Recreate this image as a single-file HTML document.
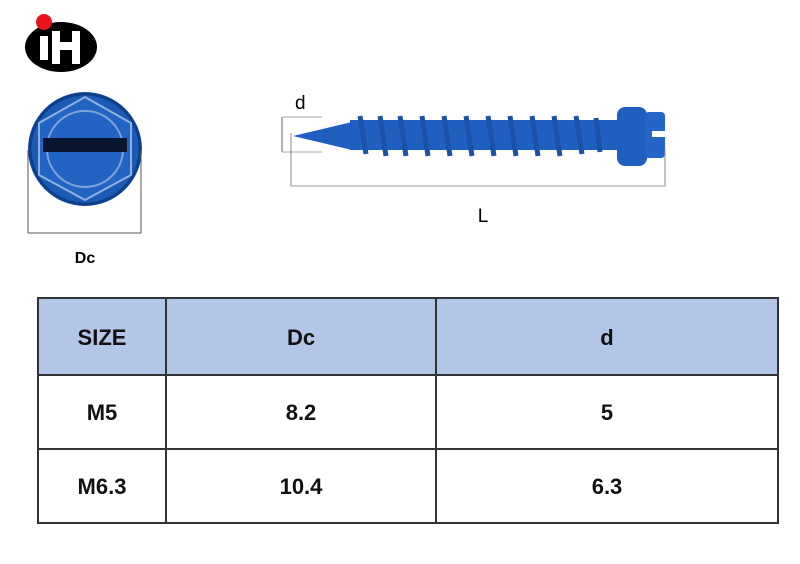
<!DOCTYPE html>
<html><head><style>body{margin:0;background:#fff}svg{display:block}</style></head><body>
<svg width="800" height="564" viewBox="0 0 800 564" xmlns="http://www.w3.org/2000/svg" font-family="Liberation Sans, sans-serif">
<rect width="800" height="564" fill="#fff"/>
<!-- logo -->
<ellipse cx="61" cy="47" rx="36" ry="25" fill="#000"/>
<rect x="52" y="31" width="8" height="33" fill="#fff"/>
<rect x="60" y="42" width="12" height="8" fill="#fff"/>
<rect x="72" y="31" width="8" height="33" fill="#fff"/>
<rect x="40" y="36" width="8" height="24" fill="#fff"/>
<circle cx="44" cy="22" r="8" fill="#e8141b"/>
<!-- head -->
<circle cx="85" cy="149" r="57" fill="#1c5bb5"/>
<circle cx="85" cy="149" r="55" fill="none" stroke="#0e3f8a" stroke-width="3"/>
<polygon points="85,97 131,123 131,175 85,200 39,175 39,123" fill="#2164c4" stroke="#8fb0e0" stroke-width="2"/>
<circle cx="85" cy="149" r="38" fill="none" stroke="#7fa3da" stroke-width="2"/>
<rect x="43" y="138" width="84" height="14" fill="#0a1530"/>
<line x1="28" y1="150" x2="28" y2="233" stroke="#555"/>
<line x1="141" y1="150" x2="141" y2="233" stroke="#555"/>
<line x1="28" y1="233" x2="141" y2="233" stroke="#555"/>
<text x="85" y="263" font-size="16" font-weight="bold" text-anchor="middle">Dc</text>
<!-- screw -->
<polygon points="293,136 352,122 352,150" fill="#1f5fc0"/>
<rect x="350" y="120" width="268" height="30" fill="#1f5fc0"/>
<g stroke="#1a52a8" stroke-width="5">
<line x1="360" y1="116" x2="366" y2="154"/><line x1="380" y1="116" x2="386" y2="156"/><line x1="400" y1="116" x2="406" y2="156"/><line x1="422" y1="116" x2="428" y2="156"/><line x1="444" y1="116" x2="450" y2="156"/><line x1="466" y1="116" x2="472" y2="156"/><line x1="488" y1="116" x2="494" y2="156"/><line x1="510" y1="116" x2="516" y2="156"/><line x1="532" y1="116" x2="538" y2="156"/><line x1="554" y1="116" x2="560" y2="156"/><line x1="576" y1="116" x2="582" y2="154"/><line x1="596" y1="118" x2="600" y2="152"/>
</g>
<rect x="617" y="107" width="30" height="59" rx="8" fill="#1f5fc0"/>
<rect x="645" y="112" width="20" height="46" rx="4" fill="#2466c8"/>
<rect x="652" y="131" width="13" height="6" fill="#fff"/>
<line x1="282" y1="117" x2="282" y2="152" stroke="#666"/>
<line x1="282" y1="117" x2="322" y2="117" stroke="#aaa"/>
<line x1="282" y1="152" x2="322" y2="152" stroke="#aaa"/>
<line x1="291" y1="133" x2="291" y2="186" stroke="#888"/>
<line x1="665" y1="150" x2="665" y2="186" stroke="#888"/>
<line x1="291" y1="186" x2="665" y2="186" stroke="#999"/>
<text x="295" y="109" font-size="19">d</text>
<text x="483" y="222" font-size="19" text-anchor="middle">L</text>
<!-- table -->
<rect x="38" y="298" width="740" height="77" fill="#b4c6e7"/>
<g stroke="#333" stroke-width="2" fill="none">
<rect x="38" y="298" width="740" height="225"/>
<line x1="38" y1="375" x2="778" y2="375"/>
<line x1="38" y1="449" x2="778" y2="449"/>
<line x1="166" y1="298" x2="166" y2="523"/>
<line x1="436" y1="298" x2="436" y2="523"/>
</g>
<g font-size="22" font-weight="bold" text-anchor="middle" fill="#111">
<text x="102" y="345">SIZE</text><text x="301" y="345">Dc</text><text x="607" y="345">d</text>
<text x="102" y="420">M5</text><text x="301" y="420">8.2</text><text x="607" y="420">5</text>
<text x="102" y="494">M6.3</text><text x="301" y="494">10.4</text><text x="607" y="494">6.3</text>
</g>
</svg>
</body></html>
